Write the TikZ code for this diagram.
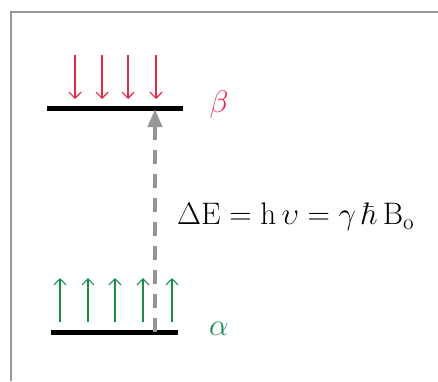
\documentclass[tikz,border=0pt]{standalone}
\usepackage{tikz}
\usetikzlibrary{positioning,arrows.meta}
\definecolor{spinred}{RGB}{232,40,72}
\definecolor{spingreen}{RGB}{25,140,75}
\definecolor{framegray}{RGB}{150,150,150}
\newcommand{\bigtxt}[1]{\scalebox{1.5}{#1}}

\begin{document}
\begin{tikzpicture}[
    x=1pt, y=1pt,
    level/.style = {line width=5pt, black},
    spinup/.style = {spingreen, line width=1.2pt, -{Straight Barb[length=6pt,width=12pt]}},
    spindown/.style = {spinred, line width=1.2pt, -{Straight Barb[length=6pt,width=12pt]}},
    trans/.style = {framegray, line width=4pt, dash pattern=on 14pt off 10pt, -{Triangle[length=18pt,width=14pt]}, shorten >=1pt},
    lbl/.style = {font=\fontsize{22}{26}\selectfont, inner sep=0pt}
]
\useasboundingbox (0,0) rectangle (438,381);

% --- Frame ---
\draw[framegray, line width=1.5pt] (11,0) -- (11,369) -- (438,369);

% --- Energy levels ---
\coordinate (betaL) at (47,273);
\coordinate (betaR) at (183,273);
\coordinate (alphaL) at (51,49);
\coordinate (alphaR) at (178,49);
\draw[level] (betaL) -- (betaR);
\draw[level] (alphaL) -- (alphaR);

% --- Spins ---
\foreach \x in {75,102,128,156}
    \draw[spindown] (\x,326) -- (\x,282);
\foreach \x in {60,88,115,143,172}
    \draw[spinup] (\x,59) -- (\x,103);

% --- Labels ---
\node[lbl, text=spinred] (beta) at (219,276) {\bigtxt{$\beta$}};
\node[lbl, text=spingreen] (alpha) at (219,52) {\bigtxt{$\alpha$}};

% --- Transition ---
\coordinate (low) at (155,49);
\coordinate (high) at (155,273);
\draw[trans] (low) -- (high);
\node[lbl, anchor=west] (energy) at (177,164)
    {\bigtxt{$\Delta\mathrm{E} = \mathrm{h}\,\upsilon = \gamma\,\hbar\,\mathrm{B}_{\mathrm{o}}$}};

\end{tikzpicture}
\end{document}
